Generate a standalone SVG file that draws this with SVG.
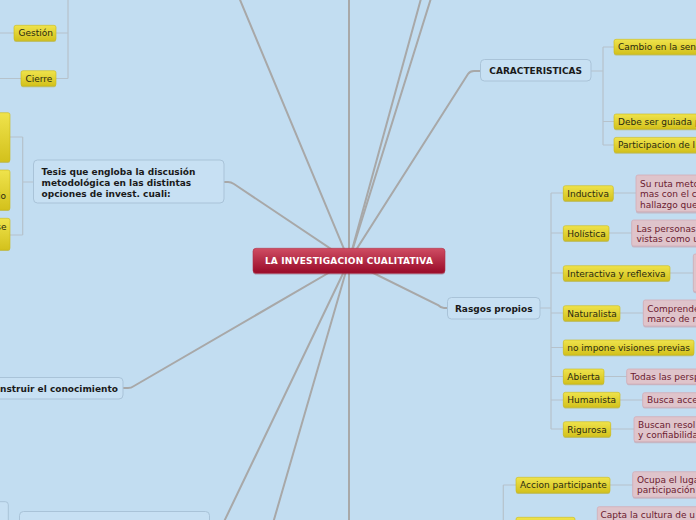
<svg xmlns="http://www.w3.org/2000/svg" width="696" height="520" viewBox="0 0 696 520">
<defs>
<linearGradient id="yg" x1="0" y1="0" x2="0" y2="1"><stop offset="0" stop-color="#efe34c"/><stop offset="1" stop-color="#d3c11c"/></linearGradient>
<linearGradient id="rg" x1="0" y1="0" x2="0" y2="1"><stop offset="0" stop-color="#cf4d63"/><stop offset="1" stop-color="#990a28"/></linearGradient>
<style>
.br{stroke:#a8a8a8;stroke-width:2;fill:none;stroke-linecap:round}
.sb{stroke:#b6c2cb;stroke-width:1.2;fill:none}
.nd{fill:#c7e0f3;stroke:#a9c3d8;stroke-width:1}
.yl{fill:url(#yg);stroke:#cbbb1a;stroke-width:0.6}
.ysh{fill:#b8a716;opacity:0.55}
.pk{fill:#dfc4cb;stroke:#d2adb7;stroke-width:0.8}
.psh{fill:#c4a0aa;opacity:0.6}
.tb{font-family:"DejaVu Sans",Verdana,sans-serif;font-size:9px;font-weight:bold;fill:#1a1a1a}
.ty{font-family:"DejaVu Sans",Verdana,sans-serif;font-size:9px;fill:#2a2a10}
.tp{font-family:"DejaVu Sans",Verdana,sans-serif;font-size:9px;fill:#6b1a2f}
.tc{font-family:"DejaVu Sans",Verdana,sans-serif;font-size:9px;font-weight:bold;fill:#ffffff;letter-spacing:0.2px}
</style>
</defs>
<rect x="0" y="0" width="696" height="520" fill="#c2ddf1"/>

<g id="connectors">
<path class="br" d="M349,261 L349,-5"/>
<path class="br" d="M349,261 L238,-5"/>
<path class="br" d="M349,261 L422,-5"/>
<path class="br" d="M349,261 L432,-5"/>
<path class="br" d="M349,261 L468,74 Q470,71 474,71 L480,71"/>
<path class="br" d="M349,261 L234,184 Q231,182 228,182 L224,182"/>
<path class="br" d="M349,261 L134,386 Q131,388 128,388 L123,388"/>
<path class="br" d="M349,261 L220,530"/>
<path class="br" d="M349,261 L271,530"/>
<path class="br" d="M349,261 L349,525"/>
<path class="br" d="M349,261 L438,305 Q441,308 444,308 L447,308"/>
<!-- left top bracket -->
<path class="sb" d="M68,-2 L68,78.5 M56,33 L68,33 M56,78.5 L68,78.5 M0,33 L14,33 M0,78.5 L21,78.5"/>
<!-- Tesis bracket -->
<path class="sb" d="M22.7,137 L22.7,235 M10,137 L22.7,137 M10,235 L22.7,235 M22.7,182 L33,182"/>
<!-- Caracteristicas bracket -->
<path class="sb" d="M591,71 L603,71 M603,47 L603,145 M603,47 L614,47 M603,121.5 L614,121.5 M603,145 L614,145"/>
<!-- Rasgos bracket -->
<path class="sb" d="M540,308 L551,308 M551,193 L551,429 M551,193 L563,193 M551,233 L563,233 M551,273 L563,273 M551,313 L563,313 M551,347.5 L563,347.5 M551,376.5 L563,376.5 M551,400 L563,400 M551,429 L563,429"/>
<path class="sb" d="M613,193 L636,193 M609,233 L632,233 M670,273 L694,273 M620,313 L643,313 M604,376.5 L627,376.5 M620,400 L643,400 M611,429 L634,429"/>
<!-- bottom right bracket -->
<path class="sb" d="M503.3,485 L503.3,525 M503.3,485 L516,485 M610,485 L633,485"/>
</g>

<g id="center">
<rect x="253" y="249.5" width="192" height="25" rx="3" fill="#7a0a20" opacity="0.35"/>
<rect x="253" y="248.3" width="192" height="25" rx="3" fill="url(#rg)" stroke="#b03048" stroke-width="0.6"/>
<text class="tc" x="349" y="264.3" text-anchor="middle">LA INVESTIGACION CUALITATIVA</text>
</g>

<g id="n-gestion">
<rect class="ysh" x="14" y="26.5" width="42" height="15.5" rx="2"/>
<rect class="yl" x="14" y="25.3" width="42" height="15.4" rx="2"/>
<text class="ty" x="18.5" y="36.3">Gestión</text>
</g>
<g id="n-cierre">
<rect class="ysh" x="21" y="72" width="35" height="15.3" rx="2"/>
<rect class="yl" x="21" y="70.7" width="35" height="15.3" rx="2"/>
<text class="ty" x="25.5" y="81.8">Cierre</text>
</g>

<g id="n-left1">
<rect class="ysh" x="-5" y="114" width="15" height="49" rx="2"/>
<rect class="yl" x="-5" y="112.7" width="15" height="49" rx="2"/>
</g>
<g id="n-left2">
<rect class="ysh" x="-5" y="171" width="15" height="40" rx="2"/>
<rect class="yl" x="-5" y="170" width="15" height="40" rx="2"/>
<text class="ty" x="6" y="199" text-anchor="end">io</text>
</g>
<g id="n-left3">
<rect class="ysh" x="-5" y="219" width="15" height="32" rx="2"/>
<rect class="yl" x="-5" y="218.3" width="15" height="31.7" rx="2"/>
<text class="ty" x="6.5" y="230" text-anchor="end">se</text>
</g>

<g id="n-tesis">
<rect class="nd" x="33.5" y="160" width="190.5" height="43" rx="4"/>
<text class="tb" x="41.5" y="174.5">Tesis que engloba la discusión</text>
<text class="tb" x="41.5" y="185.5">metodológica en las distintas</text>
<text class="tb" x="41.5" y="196.5">opciones de invest. cuali:</text>
</g>

<g id="n-construir">
<rect class="nd" x="-10" y="377.5" width="133" height="21.5" rx="4"/>
<text class="tb" x="0" y="391.5">nstruir el conocimiento</text>
</g>

<g id="n-bottomleft-a">
<rect class="nd" x="-50" y="501.7" width="58.3" height="40" rx="3"/>
</g>
<g id="n-bottomleft-b">
<rect class="nd" x="19.5" y="511.5" width="190" height="30" rx="4"/>
</g>

<g id="n-caracteristicas">
<rect class="nd" x="480.5" y="59.5" width="110.5" height="21.5" rx="4"/>
<text class="tb" x="535.7" y="73.8" text-anchor="middle">CARACTERISTICAS</text>
</g>
<g id="n-cambio">
<rect class="ysh" x="614" y="40.5" width="90" height="15" rx="2"/>
<rect class="yl" x="614" y="39.3" width="90" height="15" rx="2"/>
<text class="ty" x="618" y="50.2">Cambio en la sen</text>
</g>
<g id="n-debe">
<rect class="ysh" x="614" y="115.3" width="90" height="15" rx="2"/>
<rect class="yl" x="614" y="114" width="90" height="15" rx="2"/>
<text class="ty" x="618" y="124.9">Debe ser guiada p</text>
</g>
<g id="n-participacion">
<rect class="ysh" x="614" y="138.7" width="90" height="15" rx="2"/>
<rect class="yl" x="614" y="137.4" width="90" height="15" rx="2"/>
<text class="ty" x="618" y="148.3">Participacion de l</text>
</g>

<g id="n-rasgos">
<rect class="nd" x="447.5" y="297.5" width="92.5" height="21.5" rx="4"/>
<text class="tb" x="493.7" y="311.6" text-anchor="middle">Rasgos propios</text>
</g>

<g id="n-inductiva">
<rect class="ysh" x="563.3" y="187" width="50" height="15" rx="2"/>
<rect class="yl" x="563.3" y="185.7" width="50" height="15" rx="2"/>
<text class="ty" x="567.3" y="196.6">Inductiva</text>
</g>
<g id="p-inductiva">
<rect class="psh" x="636" y="176.5" width="70" height="37" rx="2"/>
<rect class="pk" x="636" y="175" width="70" height="36.7" rx="2"/>
<text class="tp" x="640" y="186.5">Su ruta meto</text>
<text class="tp" x="640" y="197.2">mas con el c</text>
<text class="tp" x="640" y="207.8">hallazgo que</text>
</g>

<g id="n-holistica">
<rect class="ysh" x="563.3" y="227" width="45.7" height="15" rx="2"/>
<rect class="yl" x="563.3" y="225.7" width="45.7" height="15" rx="2"/>
<text class="ty" x="567.3" y="236.6">Holística</text>
</g>
<g id="p-holistica">
<rect class="psh" x="631.7" y="221.5" width="70" height="26" rx="2"/>
<rect class="pk" x="631.7" y="220" width="70" height="26" rx="2"/>
<text class="tp" x="636.5" y="231.5">Las personas</text>
<text class="tp" x="636.5" y="242.3">vistas como u</text>
</g>

<g id="n-interactiva">
<rect class="ysh" x="563.3" y="267" width="106.7" height="15" rx="2"/>
<rect class="yl" x="563.3" y="265.7" width="106.7" height="15" rx="2"/>
<text class="ty" x="567.3" y="276.6">Interactiva y reflexiva</text>
</g>
<g id="p-interactiva">
<rect class="psh" x="693.3" y="255.5" width="20" height="37.7" rx="2"/>
<rect class="pk" x="693.3" y="254" width="20" height="37.7" rx="2"/>
</g>

<g id="n-naturalista">
<rect class="ysh" x="563.3" y="307" width="56.7" height="15" rx="2"/>
<rect class="yl" x="563.3" y="305.7" width="56.7" height="15" rx="2"/>
<text class="ty" x="567.3" y="316.6">Naturalista</text>
</g>
<g id="p-naturalista">
<rect class="psh" x="643.3" y="301.5" width="60" height="26" rx="2"/>
<rect class="pk" x="643.3" y="300" width="60" height="26" rx="2"/>
<text class="tp" x="647.3" y="311.5">Comprende</text>
<text class="tp" x="647.3" y="322.3">marco de r</text>
</g>

<g id="n-noimpone">
<rect class="ysh" x="563.3" y="341.3" width="130.7" height="15" rx="2"/>
<rect class="yl" x="563.3" y="340" width="130.7" height="15" rx="2"/>
<text class="ty" x="567.3" y="350.9">no impone visiones previas</text>
</g>

<g id="n-abierta">
<rect class="ysh" x="563.3" y="370.3" width="40.7" height="15" rx="2"/>
<rect class="yl" x="563.3" y="369" width="40.7" height="15" rx="2"/>
<text class="ty" x="567.3" y="379.9">Abierta</text>
</g>
<g id="p-abierta">
<rect class="psh" x="626.7" y="370.3" width="80" height="15" rx="2"/>
<rect class="pk" x="626.7" y="369" width="80" height="15" rx="2"/>
<text class="tp" x="630.5" y="379.9">Todas las persp</text>
</g>

<g id="n-humanista">
<rect class="ysh" x="563.3" y="393.6" width="56.7" height="15" rx="2"/>
<rect class="yl" x="563.3" y="392.3" width="56.7" height="15" rx="2"/>
<text class="ty" x="567.3" y="403.2">Humanista</text>
</g>
<g id="p-humanista">
<rect class="psh" x="642.7" y="394" width="60" height="14.6" rx="2"/>
<rect class="pk" x="642.7" y="392.7" width="60" height="14.6" rx="2"/>
<text class="tp" x="647" y="403.4">Busca acce</text>
</g>

<g id="n-rigurosa">
<rect class="ysh" x="563.3" y="423" width="47.4" height="15" rx="2"/>
<rect class="yl" x="563.3" y="421.7" width="47.4" height="15" rx="2"/>
<text class="ty" x="567.3" y="432.6">Rigurosa</text>
</g>
<g id="p-rigurosa">
<rect class="psh" x="634" y="418.2" width="70" height="25" rx="2"/>
<rect class="pk" x="634" y="416.7" width="70" height="25" rx="2"/>
<text class="tp" x="638" y="427.5">Buscan resol</text>
<text class="tp" x="638" y="438.3">y confiabilida</text>
</g>

<g id="n-accion">
<rect class="ysh" x="516" y="478.6" width="94" height="15.4" rx="2"/>
<rect class="yl" x="516" y="477.3" width="94" height="15.4" rx="2"/>
<text class="ty" x="520" y="488.4">Accion participante</text>
</g>
<g id="p-accion">
<rect class="psh" x="632.7" y="473.2" width="70" height="25.6" rx="2"/>
<rect class="pk" x="632.7" y="471.7" width="70" height="25.6" rx="2"/>
<text class="tp" x="637" y="482.5">Ocupa el luga</text>
<text class="tp" x="637" y="493.3">participación</text>
</g>
<g id="n-bottomright">
<rect class="yl" x="516" y="517.3" width="59" height="15" rx="2"/>
</g>
<g id="p-capta">
<rect class="pk" x="597.3" y="506.7" width="110" height="25" rx="2"/>
<text class="tp" x="600.5" y="517.8">Capta la cultura de u</text>
</g>
</svg>
